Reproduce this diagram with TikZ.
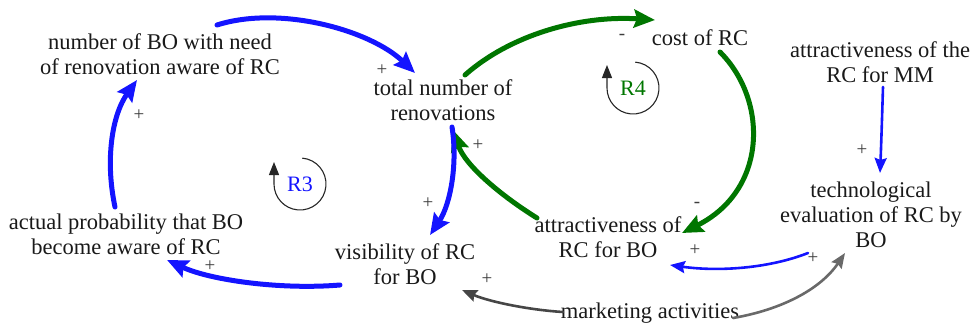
\documentclass[tikz,border=0pt]{standalone}
\usepackage{fontspec}
\setmainfont{Liberation Serif}
\newfontfamily\cldserif{Liberation Serif}
\usetikzlibrary{arrows.meta}
\definecolor{cldblue}{RGB}{20,20,255}
\definecolor{cldgreen}{RGB}{0,118,0}
\definecolor{clddark}{RGB}{70,70,70}
\definecolor{cldgray}{RGB}{105,105,105}
\definecolor{polcol}{RGB}{60,60,60}
\tikzset{
  var/.style={align=center, inner sep=1pt, font=\cldserif\fontsize{22.5}{25}\selectfont, text=black!90},
  pol/.style={inner sep=0pt, font=\cldserif\fontsize{19}{19}\selectfont, text=polcol},
  looplbl/.style={inner sep=0pt, font=\cldserif\fontsize{22}{22}\selectfont},
  thicklink/.style={line width=5pt, line cap=round, -{Stealth[length=21pt,width=18pt,inset=3pt]}},
  thinlink/.style={line width=2.6pt, line cap=round, -{Stealth[length=15pt,width=12pt,inset=2pt]}},
  loopline/.style={line width=1.1pt, black!85, -{Triangle[length=13pt,width=10pt]}},
}
\begin{document}
\begin{tikzpicture}[x=1pt,y=-1pt]
\useasboundingbox (0,0) rectangle (972,324);
% variables
\node[var] (nbo)  at (160,54)  {number of BO with need\\of renovation aware of RC};
\node[var] (tnr)  at (443,100) {total number of\\renovations};
\node[var] (cost) at (700,38)  {cost of RC};
\node[var] (amm)  at (880,62)  {attractiveness of the\\RC for MM};
\node[var] (tech) at (871,215) {technological\\evaluation of RC by\\BO};
\node[var] (arbo) at (608,237) {attractiveness of\\RC for BO};
\node[var] (vis)  at (405,264) {visibility of RC\\for BO};
\node[var, inner sep=0pt] (apb)  at (126,234) {actual probability that BO\\become aware of RC};
\node[var] (mkt)  at (650,313) {marketing activities};
% loop labels
\node[looplbl, text=cldblue]  (r3) at (300,184) {R3};
\node[looplbl, text=cldgreen] (r4) at (633,88)  {R4};
\draw[loopline] ([shift={(-85:26)}]r3.center) arc[start angle=-85, end angle=180, radius=26] -- ++(0,-22);
\draw[loopline] ([shift={(-85:26)}]r4.center) arc[start angle=-85, end angle=180, radius=26] -- ++(0,-23);
% links
\draw[thicklink, cldblue]  ([shift={(57,-29)}]nbo.center) .. controls +(63,-20) and +(-45,-43) .. ([shift={(-28,-27)}]tnr.center);
\draw[thicklink, cldgreen] ([shift={(22,-25)}]tnr.center) .. controls +(45,-40) and +(-75,-5) .. ([shift={(-45,-18)}]cost.center);
\draw[thicklink, cldgreen] ([shift={(20,14)}]cost.center) .. controls +(48,48) and +(86,-43) .. ([shift={(74,-4)}]arbo.center);
\draw[thicklink, cldgreen] ([shift={(-71,-19)}]arbo.center) .. controls +(-37,-23) and +(12,35) .. ([shift={(10,30)}]tnr.center);
\draw[thicklink, cldblue]  ([shift={(9,27)}]tnr.center) .. controls +(6,38) and +(20,-30) .. ([shift={(25,-29)}]vis.center);
\draw[thicklink, cldblue]  ([shift={(-65,21)}]vis.center) .. controls +(-60,5) and +(43,20) .. ([shift={(41,26)}]apb.center);
\draw[thicklink, cldblue]  ([shift={(-11,-27)}]apb.center) .. controls +(-10,-47) and +(-25,35) .. ([shift={(-23,26)}]nbo.center);
\draw[thinlink, cldblue]   ([shift={(3,25)}]amm.center) .. controls +(-1,33) and +(1,-23) .. ([shift={(9,-42)}]tech.center);
\draw[thinlink, cldblue]   ([shift={(-63,38)}]tech.center) .. controls +(-38,15) and +(50,7) .. ([shift={(62,28)}]arbo.center);
\draw[thinlink, clddark]   ([shift={(-87,-1)}]mkt.center) .. controls +(-33,-2) and +(28,12) .. ([shift={(57,26)}]vis.center);
\draw[thinlink, cldgray]   ([shift={(83,5)}]mkt.center) .. controls +(47,-8) and +(-25,37) .. ([shift={(-26,38)}]tech.center);
% polarities
\node[pol] (p1)  at (382,70)  {+};
\node[pol] (p2)  at (622,37)  {-};
\node[pol] (p3)  at (697,205) {-};
\node[pol] (p4)  at (478,145) {+};
\node[pol] (p5)  at (428,203) {+};
\node[pol] (p6)  at (210,266) {+};
\node[pol] (p7)  at (139,115) {+};
\node[pol] (p8)  at (862,150) {+};
\node[pol] (p9)  at (695,250) {+};
\node[pol] (p10) at (813,258) {+};
\node[pol] (p11) at (487,279) {+};
\end{tikzpicture}
\end{document}
